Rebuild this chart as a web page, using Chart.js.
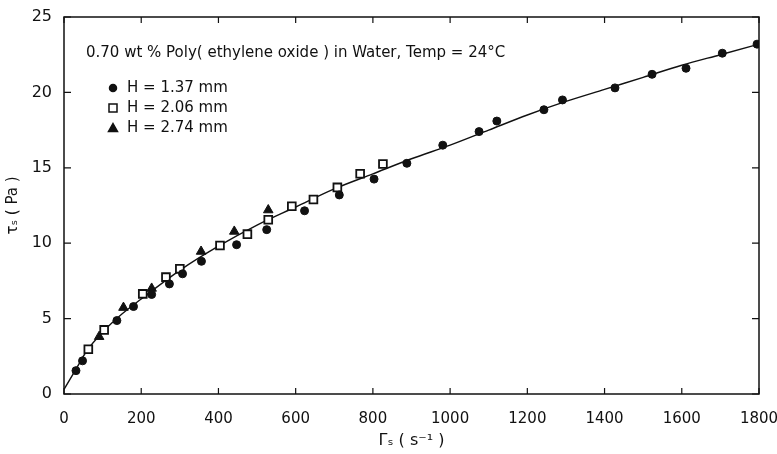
<!DOCTYPE html>
<html>
<head>
<meta charset="utf-8">
<script src="https://cdn.jsdelivr.net/npm/chart.js@4"></script>
<style>
  html, body { margin: 0; padding: 0; background: #fff; }
  #wrap { width: 777px; height: 454px; }
</style>
</head>
<body>
<div id="wrap"><canvas id="chart" width="777" height="454"></canvas></div>
<script>
// shear rate (s^-1) and shear stress (Pa)
const h137Rate = [31, 48, 137, 180, 227, 273, 307, 356, 447, 525, 623, 713, 803, 888, 981, 1075, 1121, 1243, 1291, 1427, 1523, 1611, 1705, 1795];
const h137Stress = [1.55, 2.2, 4.87, 5.8, 6.6, 7.3, 7.97, 8.8, 9.9, 10.9, 12.15, 13.2, 14.25, 15.3, 16.5, 17.4, 18.1, 18.85, 19.5, 20.3, 21.2, 21.6, 22.6, 23.2];

const h206Rate = [63, 104, 204, 264, 300, 404, 475, 529, 590, 646, 708, 767, 826];
const h206Stress = [2.97, 4.25, 6.64, 7.75, 8.3, 9.85, 10.6, 11.55, 12.45, 12.9, 13.7, 14.6, 15.25];

const h274Rate = [91, 154, 227, 355, 441, 529];
const h274Stress = [3.8, 5.73, 7.0, 9.45, 10.78, 12.2];

const fitRate = [0, 30, 60, 100, 150, 200, 300, 400, 500, 600, 700, 800, 900, 1000, 1100, 1200, 1300, 1400, 1500, 1600, 1700, 1800];
const fitStress = [0.3, 1.6, 2.9, 4.1, 5.3, 6.3, 8.2, 9.8, 11.2, 12.4, 13.6, 14.6, 15.6, 16.5, 17.5, 18.5, 19.4, 20.2, 21.0, 21.8, 22.5, 23.2];

const xTicks = [0, 200, 400, 600, 800, 1000, 1200, 1400, 1600, 1800];
const yTicks = [0, 5, 10, 15, 20, 25];

const headerText = '0.70 wt % Poly( ethylene oxide ) in Water, Temp = 24°C';

function pairs(xs, ys) {
    return xs.map((x, i) => ({ x: x, y: ys[i] }));
}

const ink = '#111';
const fontFamily = '"DejaVu Sans", sans-serif';

// box frame, inward ticks, header and legend
const framePlugin = {
    id: 'frame',
    afterDraw(chart) {
        const ctx = chart.ctx;
        const a = chart.chartArea;
        const xs = chart.scales.x;
        const ys = chart.scales.y;
        ctx.save();
        ctx.strokeStyle = ink;
        ctx.lineWidth = 1.5;
        ctx.strokeRect(a.left, a.top, a.right - a.left, a.bottom - a.top);
        ctx.lineWidth = 1.2;
        ctx.beginPath();
        xTicks.forEach(v => {
            const px = xs.getPixelForValue(v);
            ctx.moveTo(px, a.bottom); ctx.lineTo(px, a.bottom - 6);
            ctx.moveTo(px, a.top); ctx.lineTo(px, a.top + 6);
        });
        yTicks.forEach(v => {
            const py = ys.getPixelForValue(v);
            ctx.moveTo(a.left, py); ctx.lineTo(a.left + 7, py);
            ctx.moveTo(a.right, py); ctx.lineTo(a.right - 7, py);
        });
        ctx.stroke();

        // header
        ctx.fillStyle = ink;
        ctx.font = '15px ' + fontFamily;
        ctx.textBaseline = 'middle';
        ctx.fillText(headerText, a.left + 22, 53);

        // legend entries from the scatter datasets
        let rowY = 88;
        chart.data.datasets.forEach(ds => {
            if (!ds.showInLegend) return;
            const cx = 113;
            ctx.save();
            ctx.fillStyle = ds.pointBackgroundColor;
            ctx.strokeStyle = ink;
            ctx.lineWidth = 1.5;
            ctx.beginPath();
            if (ds.pointStyle === 'circle') {
                ctx.arc(cx, rowY, 3.5, 0, Math.PI * 2);
            } else if (ds.pointStyle === 'rect') {
                ctx.rect(cx - 4, rowY - 4, 8, 8);
            } else {
                ctx.moveTo(cx, rowY - 4.5);
                ctx.lineTo(cx + 4.5, rowY + 3.5);
                ctx.lineTo(cx - 4.5, rowY + 3.5);
                ctx.closePath();
            }
            ctx.fill();
            ctx.stroke();
            ctx.restore();
            ctx.font = '15px ' + fontFamily;
            ctx.fillText(ds.label, 127, rowY);
            rowY += 20;
        });
        ctx.restore();
    }
};

const chart = new Chart(document.getElementById('chart'), {
    type: 'scatter',
    data: {
        datasets: [
            {
                type: 'line',
                label: 'fit',
                data: pairs(fitRate, fitStress),
                borderColor: ink,
                borderWidth: 1.4,
                pointRadius: 0,
                cubicInterpolationMode: 'monotone',
                fill: false,
                order: 5
            },
            {
                label: 'H = 1.37 mm',
                showInLegend: true,
                data: pairs(h137Rate, h137Stress),
                pointStyle: 'circle',
                pointRadius: 4,
                pointBackgroundColor: ink,
                pointBorderColor: ink,
                pointBorderWidth: 1
            },
            {
                label: 'H = 2.06 mm',
                showInLegend: true,
                data: pairs(h206Rate, h206Stress),
                pointStyle: 'rect',
                pointRadius: 5.5,
                pointBackgroundColor: '#fff',
                pointBorderColor: ink,
                pointBorderWidth: 1.8
            },
            {
                label: 'H = 2.74 mm',
                showInLegend: true,
                data: pairs(h274Rate, h274Stress),
                pointStyle: 'triangle',
                pointRadius: 5.5,
                pointBackgroundColor: ink,
                pointBorderColor: ink,
                pointBorderWidth: 1
            }
        ]
    },
    options: {
        responsive: false,
        animation: false,
        layout: { padding: { top: 17, right: 18, left: 0, bottom: 0 } },
        plugins: {
            legend: { display: false },
            tooltip: { enabled: false }
        },
        scales: {
            x: {
                type: 'linear',
                min: 0,
                max: 1800,
                afterBuildTicks(scale) {
                    scale.ticks = xTicks.map(v => ({ value: v }));
                },
                afterFit(scale) {
                    scale.height = 60;
                    scale.paddingLeft = 0;
                    scale.paddingRight = 0;
                },
                grid: { display: false },
                border: { display: false },
                ticks: {
                    color: ink,
                    padding: 8,
                    maxRotation: 0,
                    callback: v => String(v),
                    font: { family: fontFamily, size: 15 }
                },
                title: {
                    display: true,
                    text: 'Γₛ ( s⁻¹ )',
                    color: ink,
                    padding: { top: 2 },
                    font: { family: fontFamily, size: 16 }
                }
            },
            y: {
                type: 'linear',
                min: 0,
                max: 25,
                afterBuildTicks(scale) {
                    scale.ticks = yTicks.map(v => ({ value: v }));
                },
                afterFit(scale) {
                    scale.width = 64;
                    scale.paddingTop = 0;
                    scale.paddingBottom = 0;
                },
                grid: { display: false },
                border: { display: false },
                ticks: {
                    color: ink,
                    padding: 4,
                    callback: v => String(v),
                    font: { family: fontFamily, size: 16 }
                },
                title: {
                    display: true,
                    text: 'τₛ ( Pa )',
                    color: ink,
                    padding: { bottom: 6 },
                    font: { family: fontFamily, size: 15 }
                }
            }
        }
    },
    plugins: [framePlugin]
});
</script>
</body>
</html>
